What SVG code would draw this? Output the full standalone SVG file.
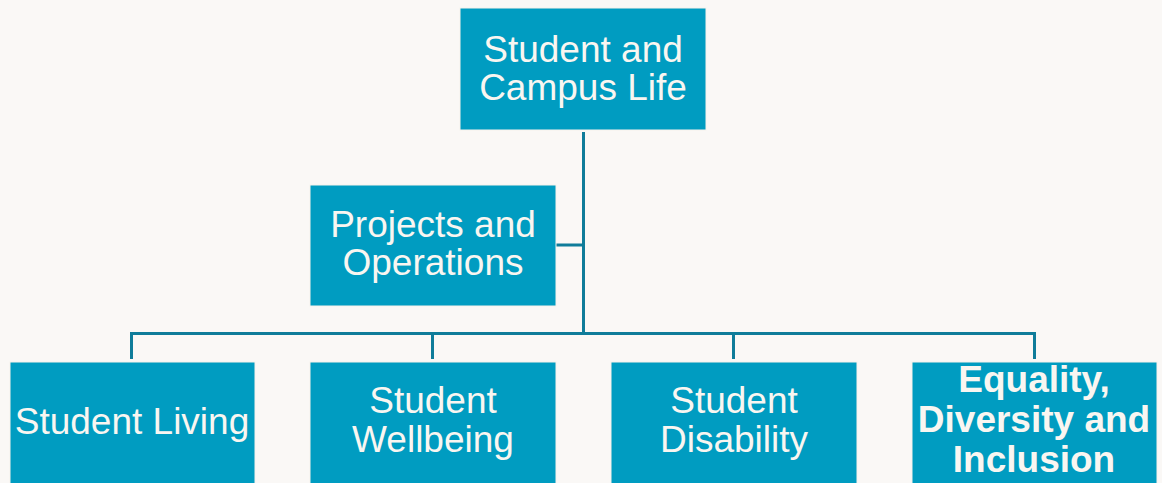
<svg xmlns="http://www.w3.org/2000/svg" width="1162" height="483" viewBox="0 0 1162 483">
  <style>
    .box { fill: #009cc1; stroke: #f6f1eb; stroke-width: 1; }
    .lbl { font-family: "Liberation Sans", Arial, sans-serif; font-size: 37px; fill: #f9f6f1; text-anchor: middle; }
    .bold { font-weight: bold; }
    .wire { fill: none; stroke: #0f7c9a; stroke-width: 3; }
  </style>
  <rect width="1162" height="483" fill="#faf8f6"/>

  <!-- reporting lines -->
  <g id="connectors">
    <path class="wire" d="M583.5 132 V334"/>
    <path class="wire" d="M556 245 H583.5"/>
    <path class="wire" d="M131.5 359 V333.5 H1034.5 V359"/>
    <path class="wire" d="M432.5 333.5 V359"/>
    <path class="wire" d="M733.5 333.5 V359"/>
  </g>

  <g id="student-campus-life">
    <rect class="box" x="460" y="8" width="246" height="122"/>
    <text class="lbl" x="583" y="62">Student and</text>
    <text class="lbl" x="583" y="100">Campus Life</text>
  </g>

  <g id="projects-operations">
    <rect class="box" x="310" y="185" width="246" height="121"/>
    <text class="lbl" x="433" y="237">Projects and</text>
    <text class="lbl" x="433" y="275">Operations</text>
  </g>

  <g id="student-living">
    <rect class="box" x="10" y="362" width="245" height="125"/>
    <text class="lbl" x="132" y="434">Student Living</text>
  </g>

  <g id="student-wellbeing">
    <rect class="box" x="310" y="362" width="246" height="125"/>
    <text class="lbl" x="433" y="413">Student</text>
    <text class="lbl" x="433" y="452">Wellbeing</text>
  </g>

  <g id="student-disability">
    <rect class="box" x="611" y="362" width="246" height="125"/>
    <text class="lbl" x="734" y="413">Student</text>
    <text class="lbl" x="734" y="452">Disability</text>
  </g>

  <g id="equality-diversity-inclusion">
    <rect class="box" x="912" y="362" width="245" height="125"/>
    <text class="lbl bold" x="1034" y="392">Equality,</text>
    <text class="lbl bold" x="1034" y="432">Diversity and</text>
    <text class="lbl bold" x="1034" y="472">Inclusion</text>
  </g>
</svg>
